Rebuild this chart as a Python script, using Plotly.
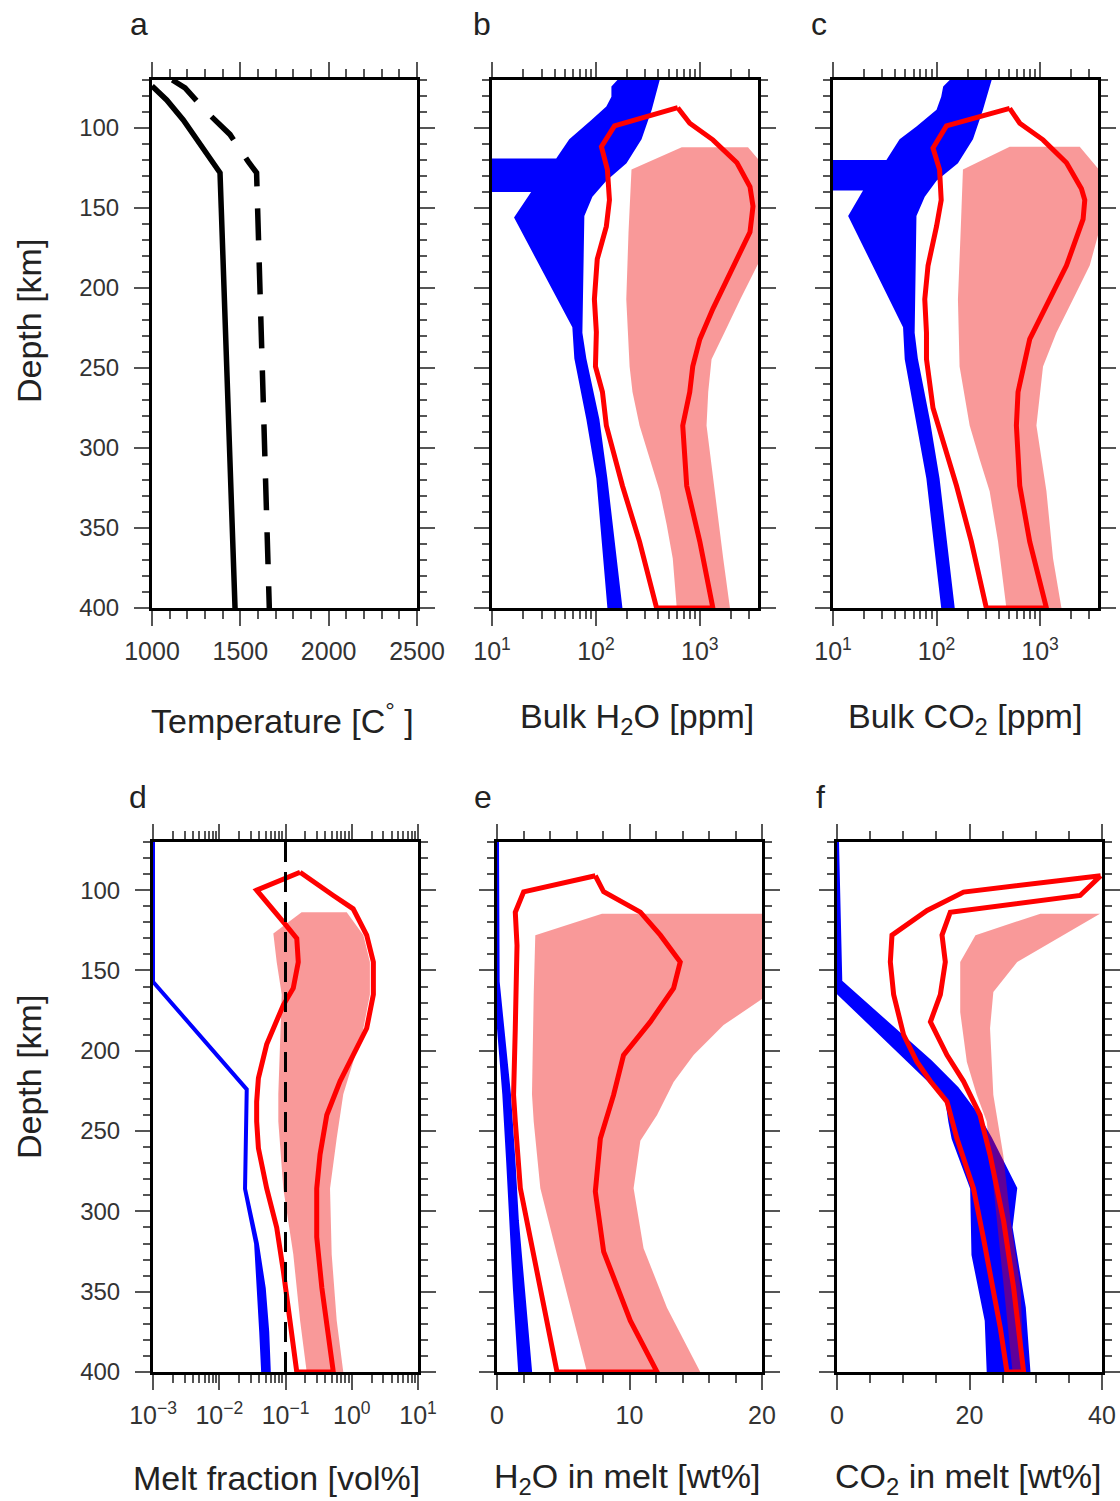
import plotly.graph_objects as go

W, H = 1120, 1501

# ---------------- DATA ----------------
# Panel a: temperature profiles (depth km, temperature C)
a_solid_depth = [73.7, 82.5, 95, 109.5, 121, 128, 150, 200, 250, 300, 350, 400]
a_solid_temp = [1000, 1083, 1177, 1272, 1347, 1385, 1392, 1407, 1425, 1441, 1456, 1470]
a_dash_depth = [70, 75, 91, 104, 121, 128, 136, 166, 208, 245, 300, 351, 400]
a_dash_temp = [1115, 1187, 1319, 1441, 1545, 1592, 1594, 1602, 1611, 1626, 1634, 1649, 1664]

# Panel b: bulk H2O [ppm]
b_blue_left_depth = [70, 74, 80.5, 86.6, 95, 107, 119, 119, 140, 140, 156, 224.5, 244, 282, 319, 400]
b_blue_left_val = [161, 141, 141, 126, 90.5, 55.4, 41.5, 9, 9, 23.8, 16.3, 59.3, 62, 80.9, 101, 129]
b_blue_right_depth = [70, 88.7, 107, 122, 133, 143, 155, 228, 244, 282, 319, 400]
b_blue_right_val = [411, 344, 275, 197, 126, 92.5, 77.4, 74.1, 80.9, 108, 129, 180]
b_shade_left_depth = [112, 126, 165, 207, 249, 265, 286, 307, 327, 348, 369, 400]
b_shade_left_val = [670, 220, 206, 196, 211, 225, 263, 328, 411, 480, 549, 600]
b_shade_right_depth = [112, 120, 184, 207, 228, 244.5, 265, 286, 327, 369, 400]
b_shade_right_val = [2910, 3700, 3700, 2455, 1722, 1297, 1205, 1161, 1396, 1680, 1950]
b_line_left_depth = [87.3, 98.7, 111.7, 126, 145, 161.5, 182, 207, 227.6, 249, 265, 286, 323.6, 358.5, 400]
b_line_left_val = [613, 151, 113, 129, 135, 126, 103, 96.7, 101, 99, 115.6, 126, 180, 263, 384]
b_line_right_depth = [87.3, 97, 107.4, 121.7, 136.7, 149, 165, 188, 213, 232, 249, 265, 286, 323.6, 358.5, 400]
b_line_right_val = [613, 800, 1336, 2277, 3040, 3250, 3040, 2083, 1336, 1000, 855, 800, 685, 748, 1000, 1336]

# Panel c: bulk CO2 [ppm]
c_blue_left_depth = [70, 74, 80.5, 88.6, 99, 107, 120, 120, 139, 139, 155, 224.5, 244.5, 286, 319, 400]
c_blue_left_val = [134, 116, 111, 100, 64, 44, 32.8, 9, 9, 19.5, 14.0, 47.5, 49.3, 64, 79.8, 111]
c_blue_right_depth = [70, 88.6, 107, 122, 133, 143, 155, 228, 244, 282, 319, 400]
c_blue_right_val = [341, 281, 225, 161, 100, 77, 64, 61.5, 66, 86, 107, 150]
c_shade_left_depth = [111.7, 126, 165, 207, 249, 286, 307, 327, 358.5, 400]
c_shade_left_val = [509, 180, 171, 161, 167, 209, 261, 326, 393, 473]
c_shade_right_depth = [111.7, 126, 165, 186, 207, 228, 249, 286, 327, 369, 400]
c_shade_right_val = [2420, 3700, 3700, 3020, 2084, 1438, 1069, 923, 1153, 1336, 1610]
c_line_left_depth = [87.7, 98.7, 112.5, 126, 145, 161.5, 186, 207, 228, 244.5, 275, 288, 323.6, 358.5, 400]
c_line_left_val = [509, 124.6, 92.5, 107, 111, 100, 82.8, 77, 80, 80, 92.5, 107, 156, 217, 303]
c_line_right_depth = [87.7, 97, 107.4, 121.7, 138, 145, 157, 186, 211, 232, 249, 265, 286, 323.6, 358.5, 400]
c_line_right_val = [509, 637, 1069, 1800, 2512, 2705, 2606, 1800, 1153, 795, 686, 613, 591, 637, 795, 1153]

# Panel d: melt fraction [vol%]
d_blue_depth = [70, 157, 224, 286, 320, 348, 375, 400]
d_blue_left_val = [0.001, 0.001, 0.026, 0.0245, 0.036, 0.040, 0.043, 0.046]
d_blue_right_val = [0.001, 0.001, 0.026, 0.0245, 0.037, 0.047, 0.053, 0.056]
d_shade_left_depth = [113.7, 127, 144.7, 165, 227, 244, 285.7, 326.7, 368, 400]
d_shade_left_val = [0.175, 0.0655, 0.0736, 0.0877, 0.0779, 0.0779, 0.0927, 0.131, 0.166, 0.209]
d_shade_right_depth = [113.7, 128, 144.7, 165, 186, 207, 227, 254.5, 285.7, 326.7, 368, 400]
d_shade_right_val = [0.84, 1.50, 1.88, 1.88, 1.50, 1.05, 0.745, 0.593, 0.47, 0.498, 0.593, 0.745]
d_line_left_depth = [88.8, 100, 121, 130, 144.7, 161, 171.5, 196, 217, 231.7, 244, 260.7, 285.7, 310, 337, 368, 400]
d_line_left_val = [0.166, 0.0367, 0.098, 0.148, 0.156, 0.131, 0.0927, 0.052, 0.039, 0.0367, 0.0367, 0.039, 0.052, 0.0736, 0.0927, 0.117, 0.148]
d_line_right_depth = [88.8, 103.3, 111.6, 128, 144.7, 165, 186, 202.6, 219, 240, 264.6, 285.7, 316, 347.7, 378.7, 400]
d_line_right_val = [0.166, 0.527, 1.05, 1.68, 2.12, 2.12, 1.68, 1.05, 0.665, 0.42, 0.332, 0.296, 0.296, 0.354, 0.443, 0.527]
d_threshold = 0.1

# Panel e: H2O in melt [wt%]
e_blue_depth = [70, 157, 186, 227, 270, 306, 348, 400]
e_blue_left_val = [0, 0, 0.15, 0.55, 0.85, 1.05, 1.35, 1.75]
e_blue_right_val = [0, 0.05, 0.4, 0.9, 1.25, 1.5, 1.95, 2.5]
e_shade_left_depth = [114.6, 128, 165, 227, 244, 285.6, 327, 368, 400]
e_shade_left_val = [7.92, 2.89, 2.77, 2.64, 2.77, 3.27, 4.53, 5.78, 6.79]
e_shade_right_depth = [114.6, 165, 184, 202.7, 219.5, 240, 256, 285.6, 322.9, 360, 400]
e_shade_right_val = [20.5, 20.5, 17.1, 14.84, 13.33, 12.08, 10.82, 10.31, 11.06, 12.83, 15.34]
e_line_left_depth = [91, 101, 113.7, 134.4, 186, 227.5, 244, 285.6, 316.6, 358, 400]
e_line_left_val = [7.42, 2.01, 1.38, 1.51, 1.38, 1.25, 1.38, 1.76, 2.51, 3.52, 4.53]
e_line_right_depth = [91, 101, 113.7, 128, 144.7, 161, 182, 202.7, 227.5, 254.6, 287.6, 325, 368, 400]
e_line_right_val = [7.42, 8.05, 10.82, 12.33, 13.83, 13.33, 11.57, 9.55, 8.8, 7.8, 7.42, 8.05, 10.06, 12.08]

# Panel f: CO2 in melt [wt%]
f_blue_left_depth = [70, 163, 219, 229.7, 244, 254.6, 285.6, 327, 368, 400]
f_blue_left_val = [0, 0, 14.1, 16.6, 17.1, 17.6, 20.4, 20.6, 22.6, 22.9]
f_blue_right_depth = [70, 157, 207, 223.5, 240, 254.6, 285.6, 310, 360, 400]
f_blue_right_val = [0, 0.5, 14.1, 18.1, 21.1, 23.1, 26.9, 26.2, 28.2, 28.9]
f_shade_left_depth = [114.6, 128, 144.7, 176, 207, 227.5, 244, 300, 360, 400]
f_shade_left_val = [30.7, 20.9, 18.6, 18.6, 19.6, 21.1, 22.6, 24, 25.5, 26.5]
f_shade_right_depth = [114.6, 144.7, 163.4, 186, 227.5, 265, 306, 347.6, 400]
f_shade_right_val = [39.7, 27.2, 23.6, 23.1, 23.6, 25.1, 26.2, 27.7, 28.2]
f_line_left_depth = [91, 101.2, 112.6, 128, 144.7, 165, 190, 207, 219, 231.7, 254.5, 285.6, 316.6, 347.6, 372.5, 400]
f_line_left_val = [39.8, 19.1, 13.6, 8.3, 8.05, 8.55, 10.05, 12.08, 14.1, 16.6, 18.1, 20.6, 22.1, 23.6, 24.65, 25.66]
f_line_right_depth = [91, 103.3, 113.7, 128, 144.7, 165, 182, 202.7, 219, 240, 264.8, 306, 347.6, 400]
f_line_right_val = [39.8, 36.7, 17.1, 15.85, 16.35, 15.6, 14.1, 16.6, 19.1, 21.6, 23.1, 25.15, 26.66, 28.17]

# Tick labels
depth_ticks = [100, 150, 200, 250, 300, 350, 400]
temp_ticks = [1000, 1500, 2000, 2500]
ppm_tickvals = [10, 100, 1000]
ppm_ticktext = ["10<sup>1</sup>", "10<sup>2</sup>", "10<sup>3</sup>"]
melt_tickvals = [0.001, 0.01, 0.1, 1, 10]
melt_ticktext = ["10<sup>\u22123</sup>", "10<sup>\u22122</sup>", "10<sup>\u22121</sup>",
                 "10<sup>0</sup>", "10<sup>1</sup>"]
h2o_ticks = [0, 10, 20]
co2_ticks = [0, 20, 40]

panel_letters = ["a", "b", "c", "d", "e", "f"]
x_titles = ["Temperature [C<sup>\u00b0</sup> ]", "Bulk H<sub>2</sub>O [ppm]", "Bulk CO<sub>2</sub> [ppm]",
            "Melt fraction [vol%]", "H<sub>2</sub>O in melt [wt%]", "CO<sub>2</sub> in melt [wt%]"]
y_title = "Depth [km]"

# ---------------- STYLE / LAYOUT ----------------
FONT = "Liberation Sans, Arial, sans-serif"
BLUE = "#0000FF"
RED = "#FF0000"
PINK = "rgba(240,0,0,0.40)"
TICKC = "#555555"
LABC = "#333333"

# pixel boxes of plot areas: (x0, x1, y0, y1)
boxes = [
    (152, 417, 80, 608),
    (492, 758, 80, 608),
    (833, 1098, 80, 608),
    (153, 418, 842, 1372),
    (497, 762, 842, 1372),
    (837, 1102, 842, 1372),
]

fig = go.Figure()


def ax_ref(i):
    return ("x" if i == 1 else f"x{i}"), ("y" if i == 1 else f"y{i}")


def add_band(i, dl, vl, dr, vr, color, lw=0, lcolor=None):
    xr, yr = ax_ref(i)
    xs = list(vl) + list(vr)[::-1] + [vl[0]]
    ys = list(dl) + list(dr)[::-1] + [dl[0]]
    fig.add_trace(go.Scatter(x=xs, y=ys, mode="lines", fill="toself", fillcolor=color,
                             line=dict(width=lw, color=lcolor or color),
                             xaxis=xr, yaxis=yr, showlegend=False, hoverinfo="skip"))


def add_loop(i, dl, vl, dr, vr, width=5):
    xr, yr = ax_ref(i)
    xs = list(vl) + list(vr)[::-1]
    ys = list(dl) + list(dr)[::-1]
    fig.add_trace(go.Scatter(x=xs, y=ys, mode="lines", line=dict(color=RED, width=width),
                             xaxis=xr, yaxis=yr, showlegend=False, hoverinfo="skip"))


# Panel a
fig.add_trace(go.Scatter(x=a_solid_temp, y=a_solid_depth, mode="lines",
                         line=dict(color="black", width=5.5), xaxis="x", yaxis="y", showlegend=False))
fig.add_trace(go.Scatter(x=a_dash_temp, y=a_dash_depth, mode="lines",
                         line=dict(color="black", width=5.5, dash="32px,22px"), xaxis="x", yaxis="y",
                         showlegend=False))

# Panel b
add_band(2, b_blue_left_depth, b_blue_left_val, b_blue_right_depth, b_blue_right_val, BLUE)
add_band(2, b_shade_left_depth, b_shade_left_val, b_shade_right_depth, b_shade_right_val, PINK)
add_loop(2, b_line_left_depth, b_line_left_val, b_line_right_depth, b_line_right_val)

# Panel c
add_band(3, c_blue_left_depth, c_blue_left_val, c_blue_right_depth, c_blue_right_val, BLUE)
add_band(3, c_shade_left_depth, c_shade_left_val, c_shade_right_depth, c_shade_right_val, PINK)
add_loop(3, c_line_left_depth, c_line_left_val, c_line_right_depth, c_line_right_val)

# Panel d
add_band(4, d_blue_depth, d_blue_left_val, d_blue_depth, d_blue_right_val, BLUE, lw=4)
add_band(4, d_shade_left_depth, d_shade_left_val, d_shade_right_depth, d_shade_right_val, PINK)
add_loop(4, d_line_left_depth, d_line_left_val, d_line_right_depth, d_line_right_val)
fig.add_trace(go.Scatter(x=[d_threshold, d_threshold], y=[70, 400], mode="lines",
                         line=dict(color="black", width=3, dash="20px,10px"),
                         xaxis="x4", yaxis="y4", showlegend=False))

# Panel e
add_band(5, e_blue_depth, e_blue_left_val, e_blue_depth, e_blue_right_val, BLUE, lw=4)
add_band(5, e_shade_left_depth, e_shade_left_val, e_shade_right_depth, e_shade_right_val, PINK)
add_loop(5, e_line_left_depth, e_line_left_val, e_line_right_depth, e_line_right_val)

# Panel f
add_band(6, f_blue_left_depth, f_blue_left_val, f_blue_right_depth, f_blue_right_val, BLUE, lw=4)
add_band(6, f_shade_left_depth, f_shade_left_val, f_shade_right_depth, f_shade_right_val, PINK)
add_loop(6, f_line_left_depth, f_line_left_val, f_line_right_depth, f_line_right_val)


def log_minor(lo_exp, hi_exp, maxval):
    out = []
    for e in range(lo_exp, hi_exp + 1):
        for m in range(2, 10):
            v = m * 10.0 ** e
            if v < maxval:
                out.append(v)
    return out


common = dict(showline=True, linewidth=3, linecolor="black", mirror="allticks",
              ticks="outside", ticklen=15, tickwidth=1.5, tickcolor=TICKC,
              showgrid=False, zeroline=False, automargin=False,
              tickfont=dict(family=FONT, size=25, color=LABC))

x_specs = [
    dict(type="linear", range=[1000, 2500], tickmode="array", tickvals=temp_ticks,
         minor=dict(ticks="outside", ticklen=8, tickwidth=1.5, tickcolor=TICKC, dtick=100, tick0=0, showgrid=False)),
    dict(type="log", range=[1, 3.56], tickmode="array", tickvals=ppm_tickvals, ticktext=ppm_ticktext,
         minor=dict(ticks="outside", ticklen=8, tickwidth=1.5, tickcolor=TICKC, tickmode="array",
                    tickvals=log_minor(1, 3, 3630), showgrid=False)),
    dict(type="log", range=[1, 3.56], tickmode="array", tickvals=ppm_tickvals, ticktext=ppm_ticktext,
         minor=dict(ticks="outside", ticklen=8, tickwidth=1.5, tickcolor=TICKC, tickmode="array",
                    tickvals=log_minor(1, 3, 3630), showgrid=False)),
    dict(type="log", range=[-3, 1], tickmode="array", tickvals=melt_tickvals, ticktext=melt_ticktext,
         minor=dict(ticks="outside", ticklen=8, tickwidth=1.5, tickcolor=TICKC, tickmode="array",
                    tickvals=log_minor(-3, 0, 10), showgrid=False)),
    dict(type="linear", range=[0, 20], tickmode="array", tickvals=h2o_ticks,
         minor=dict(ticks="outside", ticklen=8, tickwidth=1.5, tickcolor=TICKC, dtick=2, tick0=0, showgrid=False)),
    dict(type="linear", range=[0, 40], tickmode="array", tickvals=co2_ticks,
         minor=dict(ticks="outside", ticklen=8, tickwidth=1.5, tickcolor=TICKC, dtick=5, tick0=0, showgrid=False)),
]

layout = dict(width=W, height=H, margin=dict(l=0, r=0, t=0, b=0, autoexpand=False),
              paper_bgcolor="white", plot_bgcolor="white", showlegend=False)

for i, (x0, x1, y0, y1) in enumerate(boxes, start=1):
    xa = "xaxis" if i == 1 else f"xaxis{i}"
    ya = "yaxis" if i == 1 else f"yaxis{i}"
    xr, yr = ax_ref(i)
    xd = dict(common)
    xd.update(x_specs[i - 1])
    xd.update(domain=[x0 / W, x1 / W], anchor=yr, ticklabelstandoff=4)
    yd = dict(common)
    yd.update(range=[400, 70], tickmode="array", tickvals=depth_ticks,
              minor=dict(ticks="outside", ticklen=7, tickwidth=1.5, tickcolor=TICKC, dtick=10, tick0=0,
                         showgrid=False),
              domain=[1 - y1 / H, 1 - y0 / H], anchor=xr,
              showticklabels=(i in (1, 4)), ticklabelstandoff=10,
              tickfont=dict(family=FONT, size=24, color=LABC))
    layout[xa] = xd
    layout[ya] = yd

annotations = []
letter_pos = [(139, 24), (482, 24), (819, 24), (138, 797), (483, 797), (820, 797)]
for t, (x, y) in zip(panel_letters, letter_pos):
    annotations.append(dict(text=t, x=x / W, y=1 - y / H, xref="paper", yref="paper",
                            xanchor="center", yanchor="middle", showarrow=False,
                            font=dict(family=FONT, size=32, color="#222")))
title_pos = [(282, 718), (637, 718), (965, 718), (276, 1478), (627, 1478), (968, 1478)]
for t, (x, y) in zip(x_titles, title_pos):
    annotations.append(dict(text=t, x=x / W, y=1 - y / H, xref="paper", yref="paper",
                            xanchor="center", yanchor="middle", showarrow=False,
                            font=dict(family=FONT, size=34, color="#222")))
for yc in (321, 1077):
    annotations.append(dict(text=y_title, x=29 / W, y=1 - yc / H, xref="paper", yref="paper",
                            xanchor="center", yanchor="middle", showarrow=False, textangle=-90,
                            font=dict(family=FONT, size=34, color="#222")))
layout["annotations"] = annotations

fig.update_layout(**layout)
fig.write_html("out.html", config={"displayModeBar": False},
               post_script="document.body.style.margin='0';document.body.style.padding='0';"
                           "document.documentElement.style.overflow='hidden';")
